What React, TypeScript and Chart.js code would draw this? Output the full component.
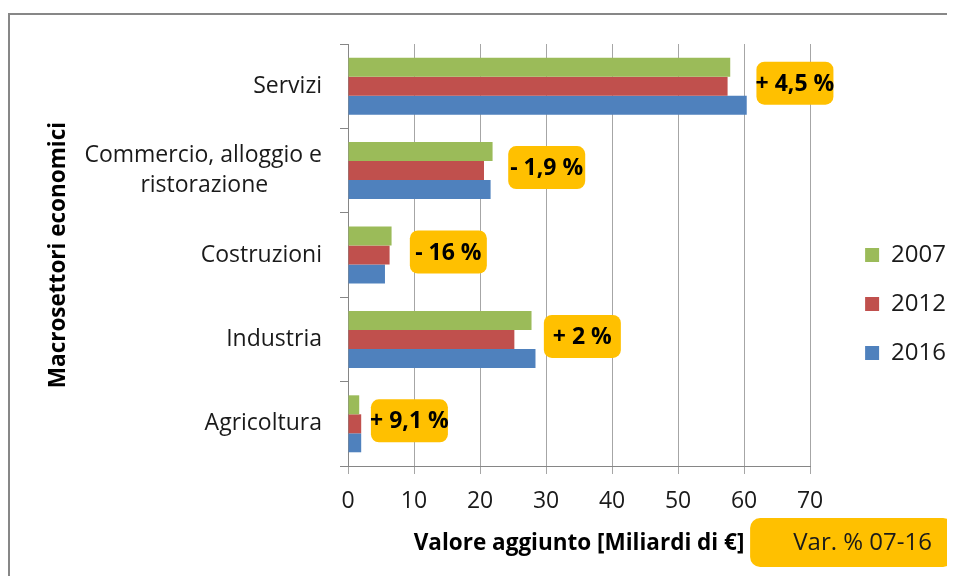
import React, { useEffect, useRef } from 'react';
import { Chart, registerables } from 'chart.js';

Chart.register(...registerables);

// ---- data ----
const categories: (string | string[])[] = [
  'Servizi',
  ['Commercio, alloggio e', 'ristorazione'],
  'Costruzioni',
  'Industria',
  'Agricoltura',
];
const seriesNames = ['2007', '2012', '2016'];
const values2007 = [57.9, 21.9, 6.6, 27.8, 1.7];
const values2012 = [57.5, 20.6, 6.3, 25.2, 2.0];
const values2016 = [60.4, 21.6, 5.6, 28.4, 2.0];
const changeLabels = ['+ 4,5 %', '- 1,9 %', '- 16 %', '+ 2 %', '+ 9,1 %'];
const changeLabelAt = [67.7, 30.1, 15.2, 35.5, 9.3];
const xMin = 0;
const xMax = 70;
const xStep = 10;
const xTitle = 'Valore aggiunto [Miliardi di €]';
const yTitle = 'Macrosettori economici';
const changeLegend = 'Var. % 07-16';

const FONT = '"Open Sans"';
const TEXT = '#1a1a1a';
const colors = ['#9BBB59', '#C0504D', '#4F81BD'];
const ORANGE = '#FFC000';

const TICK_FONT_SIZE = 23;
const TITLE_FONT_SIZE = 22.5;
const LEGEND_PADDING = 25;

const measureCtx = document.createElement('canvas').getContext('2d')!;
function centerLines(lines: string[]): string[] {
  measureCtx.font = `${TICK_FONT_SIZE}px ${FONT}`;
  const widths = lines.map((l) => measureCtx.measureText(l).width);
  const maxW = Math.max(...widths);
  const spaceW = measureCtx.measureText('\u00a0').width || 5;
  return lines.map((l, i) => l + '\u00a0'.repeat(Math.round((maxW - widths[i]) / 2 / spaceW)));
}

const decorPlugin = {
  id: 'decor',
  afterLayout(chart: any) {
    const lg = chart.legend;
    if (lg) {
      const dx = chart.chartArea.right + 55 - (lg.left + LEGEND_PADDING);
      const dy = -6;
      lg.left += dx;
      lg.right += dx;
      lg.top += dy;
      lg.bottom += dy;
    }
  },
  beforeDraw(chart: any) {
    const ctx = chart.ctx;
    ctx.save();
    ctx.strokeStyle = '#878787';
    ctx.lineWidth = 2;
    ctx.beginPath();
    ctx.moveTo(1, chart.height + 10);
    ctx.lineTo(1, 6);
    ctx.lineTo(chart.width + 10, 6);
    ctx.stroke();
    ctx.restore();
  },
  afterDatasetsDraw(chart: any) {
    const ctx = chart.ctx;
    const xs = chart.scales.x;
    const ys = chart.scales.y;
    ctx.save();
    changeLabels.forEach((txt, i) => {
      const cx = xs.getPixelForValue(changeLabelAt[i]);
      const cy = ys.getPixelForValue(i) - 3;
      const w = 77;
      const h = 43;
      ctx.fillStyle = ORANGE;
      ctx.beginPath();
      ctx.roundRect(cx - w / 2, cy - h / 2, w, h, 8);
      ctx.fill();
      ctx.fillStyle = '#000';
      ctx.font = `bold 23px ${FONT}`;
      ctx.textAlign = 'center';
      ctx.textBaseline = 'middle';
      ctx.fillText(txt, cx, cy + 1);
    });
    ctx.restore();
  },
  afterDraw(chart: any) {
    const ctx = chart.ctx;
    const a = chart.chartArea;
    const w = 203;
    const h = 49;
    const left = a.right - 60;
    const top = a.bottom + 52;
    ctx.save();
    ctx.fillStyle = ORANGE;
    ctx.beginPath();
    ctx.roundRect(left, top, w, h, 10);
    ctx.fill();
    ctx.fillStyle = TEXT;
    ctx.font = `24px ${FONT}`;
    ctx.textAlign = 'center';
    ctx.textBaseline = 'middle';
    ctx.fillText(changeLegend, left + w / 2 + 11, top + h / 2 + 1);
    ctx.restore();
  },
};

export default function App() {
  const canvasRef = useRef<HTMLCanvasElement>(null);

  useEffect(() => {
    Chart.defaults.font.family = FONT;
    const chart = new Chart(canvasRef.current!, {
      type: 'bar',
      data: {
        labels: categories as any,
        datasets: [
          { label: seriesNames[0], data: values2007, backgroundColor: colors[0] },
          { label: seriesNames[1], data: values2012, backgroundColor: colors[1] },
          { label: seriesNames[2], data: values2016, backgroundColor: colors[2] },
        ],
      },
      options: {
        indexAxis: 'y',
        animation: false,
        responsive: true,
        maintainAspectRatio: false,
        datasets: {
          bar: { categoryPercentage: 0.675, barPercentage: 1 },
        },
        layout: { padding: { top: 36, left: 0, right: 29, bottom: 0 } },
        plugins: {
          tooltip: { enabled: false },
          legend: {
            position: 'right',
            labels: {
              boxWidth: 14,
              boxHeight: 14,
              padding: LEGEND_PADDING,
              color: TEXT,
              font: { size: 24, family: FONT },
            },
          },
        },
        scales: {
          x: {
            min: xMin,
            max: xMax,
            ticks: { stepSize: xStep, padding: 14, color: TEXT, font: { size: 23, family: FONT } },
            grid: { color: '#A6A6A6', tickLength: 8, drawTicks: true, lineWidth: 1 },
            border: { color: '#868686' },
            title: {
              display: true,
              text: xTitle,
              color: '#000',
              font: { size: TITLE_FONT_SIZE, weight: 'bold', family: FONT },
              padding: { top: 0, bottom: 19 },
            },
            afterFit: (s: any) => {
              s.height = 110;
            },
          },
          y: {
            ticks: {
              padding: 18,
              color: TEXT,
              font: { size: TICK_FONT_SIZE, family: FONT, lineHeight: 1.3 },
              callback: (_v: any, i: number) => {
                const l = categories[i];
                return Array.isArray(l) ? centerLines(l) : l;
              },
            },
            grid: { offset: true, drawOnChartArea: false, drawTicks: true, tickLength: 8, color: '#868686' },
            border: { color: '#868686' },
            title: {
              display: true,
              text: yTitle,
              color: '#000',
              font: { size: TITLE_FONT_SIZE, weight: 'bold', family: FONT },
              padding: { top: 37, bottom: 0 },
            },
            afterFit: (s: any) => {
              s.width = 340;
            },
          },
        },
      },
      plugins: [decorPlugin],
    });
    return () => chart.destroy();
  }, []);

  return (
    <div style={{ position: 'relative', width: 947, height: 568 }}>
      <canvas ref={canvasRef} />
    </div>
  );
}
